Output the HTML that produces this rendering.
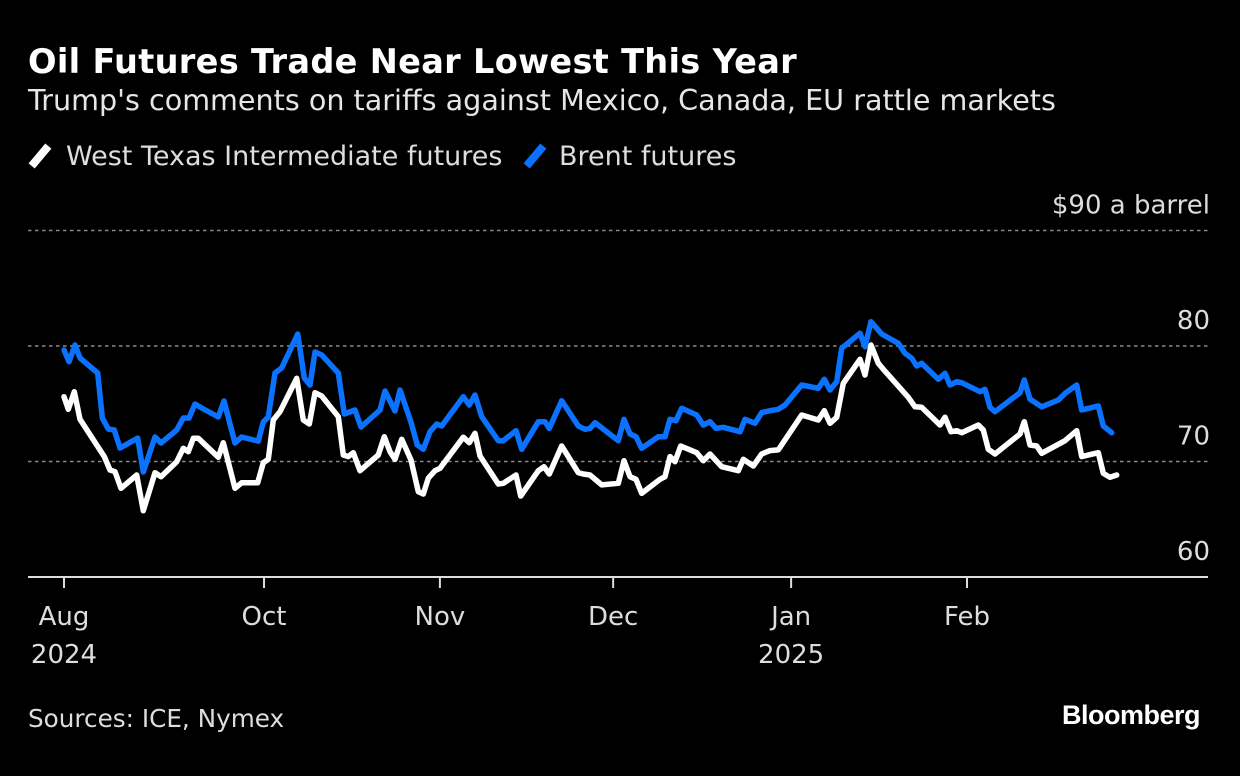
<!DOCTYPE html>
<html><head><meta charset="utf-8">
<style>
html,body{margin:0;padding:0;background:#000;}
body{width:1240px;height:776px;overflow:hidden;font-family:"Liberation Sans","DejaVu Sans",sans-serif;color:#fff;position:relative;}
.t{position:absolute;white-space:nowrap;}
</style></head>
<body>
<div class="t" style="left:28px;top:42px;font-size:33.6px;font-weight:bold;font-family:'DejaVu Sans',sans-serif;letter-spacing:0.3px;">Oil Futures Trade Near Lowest This Year</div>
<div class="t" style="left:28px;top:83px;font-size:28.6px;font-family:'DejaVu Sans',sans-serif;color:#e6e6e6;">Trump's comments on tariffs against Mexico, Canada, EU rattle markets</div>
<div class="t" style="left:30px;top:141px;font-size:27px;font-family:'DejaVu Sans',sans-serif;color:#ddd;"><span style="display:inline-block;width:8px;height:26px;background:#fff;transform:rotate(40deg);vertical-align:-4px;margin:0 22px 0 6px;"></span>West Texas Intermediate futures</div>
<div class="t" style="left:525px;top:141px;font-size:27px;font-family:'DejaVu Sans',sans-serif;color:#ddd;"><span style="display:inline-block;width:8px;height:26px;background:#0a72ff;transform:rotate(40deg);vertical-align:-4px;margin:0 20px 0 6px;"></span>Brent futures</div>
<svg id="chart" width="1240" height="776" style="position:absolute;left:0;top:0;" font-family="DejaVu Sans, sans-serif"></svg>
<div class="t" style="left:28px;top:704px;font-size:24.7px;font-family:'DejaVu Sans',sans-serif;color:#ddd;">Sources: ICE, Nymex</div>
<div class="t" style="right:40px;top:700px;font-size:27px;font-weight:bold;letter-spacing:-0.5px;">Bloomberg</div>
<script>
const yTicks=[60,70,80,90];
const yTickLabels=["60","70","80","$90 a barrel"];
const xTicks=[0,38.1,71.6,104.6,138.5,172];
const xTickLabels=["Aug","Oct","Nov","Dec","Jan","Feb"];
const xYearLabels=["2024","","","","2025",""];
const brentT=[0,0.95,2.1,3.05,6.42,7.3,8.44,9.58,10.67,14.04,15.1,17.33,18.48,21.47,22.72,23.81,24.95,26.23,29.39,30.48,32.57,33.85,37.01,37.96,38.91,40.19,41.47,44.51,45.77,46.86,47.81,49.09,52.25,53.39,55.43,56.57,60.19,61.14,63.05,64,66.1,67.3,68.44,69.71,70.99,71.94,76.06,77.2,78.29,79.56,82.72,83.68,86.1,87.18,90.34,91.62,92.44,94.8,97.96,99.24,100.19,101.14,105.58,106.67,107.81,108.95,110.04,113.2,114.48,115.43,116.57,117.66,120.51,121.77,123.05,124.19,125.58,128.76,129.71,131.62,132.9,134.48,136.06,137.33,140.51,143.68,144.82,145.9,147.18,148.13,151.62,152.57,153.71,155.75,158.91,160.19,161.47,162.42,163.37,166.53,167.81,168.76,170.04,170.99,174.48,175.43,176.38,177.33,182.1,182.91,184,186.23,189.39,190.67,192.9,193.85,197.01,197.96,199.56];
const brentV=[79.65,78.64,80.09,78.96,77.66,73.77,72.81,72.73,71.17,72.03,69.09,72.12,71.6,72.73,73.77,73.77,74.98,74.63,73.85,75.24,71.6,72.12,71.77,73.42,73.85,77.66,78.1,81.04,77.23,76.62,79.48,79.22,77.66,74.11,74.46,72.99,74.46,76.1,74.37,76.19,73.4,71.43,71.06,72.58,73.25,73.07,75.61,74.89,75.76,73.88,71.8,71.8,72.67,71.06,73.45,73.45,72.87,75.26,73.07,72.79,72.87,73.36,71.8,73.65,72.38,72.15,71.14,72.15,72.15,73.65,73.53,74.61,74.03,73.16,73.45,72.87,72.96,72.58,73.65,73.31,74.23,74.4,74.52,74.89,76.62,76.34,77.12,76.19,76.91,79.8,81.1,79.94,82.1,81.04,80.23,79.37,78.94,78.27,78.5,77.12,77.64,76.62,76.91,76.82,76.04,76.25,74.69,74.31,75.96,77.06,75.39,74.74,75.32,75.9,76.62,74.46,74.81,73.07,72.49];
const wtiT=[0,0.82,1.96,3.05,7.68,8.76,9.71,10.86,13.85,15.1,17.33,18.48,21.47,22.72,23.68,24.63,25.58,29.39,30.34,32.57,33.85,36.9,37.96,38.91,39.87,41.14,44.32,45.58,46.72,47.81,49.09,52.25,53.2,54.15,55.1,56.38,59.87,61.01,62.1,63.05,64.32,66.1,67.49,68.44,69.39,70.67,71.62,76.06,77.2,78.29,79.24,82.72,83.68,86.1,86.99,90.34,91.43,92.44,94.8,97.96,98.91,100.19,102.42,105.58,106.67,107.81,108.95,110.04,113.52,114.48,115.43,116.38,117.47,120.51,121.77,123.05,125.28,128.44,129.39,131.3,132.9,134.48,136.06,140.51,143.68,144.82,145.9,147.18,148.44,151.62,152.57,153.71,155.1,156.06,160.82,162.1,163.37,166.86,167.81,168.95,170.04,170.99,174.15,175.1,176.06,177.33,182.1,182.91,184,185.28,186.23,190.67,192.9,193.85,197.01,197.96,199.24,200.51];
const wtiV=[75.61,74.52,76.04,73.65,70.42,69.26,69.12,67.68,68.83,65.74,69.03,68.68,69.98,71.14,70.85,72.01,72.01,70.36,71.63,67.68,68.16,68.16,69.9,70.19,73.59,74.31,77.2,73.59,73.25,75.96,75.67,73.88,70.56,70.42,70.76,69.2,70.56,72.15,70.85,70.19,71.92,70.13,67.39,67.19,68.55,69.2,69.41,72.1,71.63,72.44,70.48,68.05,68.11,68.83,67.01,69.2,69.55,68.92,71.34,69.03,68.92,68.83,67.97,68.11,70.07,68.68,68.46,67.25,68.46,68.68,70.42,69.98,71.34,70.76,70.07,70.65,69.55,69.2,70.19,69.61,70.65,70.94,71.0,74.03,73.59,74.4,73.31,73.83,76.77,78.85,77.49,80.09,78.5,77.98,75.56,74.74,74.69,73.16,73.83,72.58,72.67,72.49,73.16,72.73,71.06,70.65,72.38,73.45,71.43,71.34,70.71,71.8,72.67,70.42,70.76,68.98,68.63,68.83];

const svg=document.getElementById('chart');
const NS='http://www.w3.org/2000/svg';
const xS=t=>64+t*5.25;
const yS=v=>577-(v-60)*11.55;
function mk(tag,attrs){const e=document.createElementNS(NS,tag);for(const k in attrs)e.setAttribute(k,attrs[k]);svg.appendChild(e);return e;}
yTicks.forEach((v,i)=>{
  if(v>60){
    const g=mk('line',{x1:28,x2:1210,y1:yS(v),y2:yS(v),stroke:'#8a8a8a','stroke-width':1.6,'stroke-dasharray':'3.5,3.5'});
    
    
  }
  const tx=mk('text',{x:1210,y:yS(v)-17,'text-anchor':'end','font-size':26,fill:'#ddd'});
  tx.textContent=yTickLabels[i];
  
  
});
const ax=mk('line',{x1:28,x2:1208,y1:577,y2:577,stroke:'#ddd','stroke-width':2});


xTicks.forEach((t,i)=>{
  const tk=mk('line',{x1:xS(t),x2:xS(t),y1:577,y2:588,stroke:'#ddd','stroke-width':2});
  
  
  const lb=mk('text',{x:xS(t),y:625,'text-anchor':'middle','font-size':26,fill:'#ddd'});
  lb.textContent=xTickLabels[i];
  
  
  if(xYearLabels[i]){
    const yl=mk('text',{x:xS(t),y:663,'text-anchor':'middle','font-size':26,fill:'#ddd'});
    yl.textContent=xYearLabels[i];
    
    
  }
});
function line(T,V,color,name){
  const d=T.map((t,i)=>(i?'L':'M')+xS(t).toFixed(1)+','+yS(V[i]).toFixed(1)).join('');
  const p=mk('path',{d:d,fill:'none',stroke:color,'stroke-width':5.5,'stroke-linejoin':'round','stroke-linecap':'round'});
  
  
}
line(brentT,brentV,'#0a72ff','brent-line');
line(wtiT,wtiV,'#ffffff','wti-line');
</script>
</body></html>
